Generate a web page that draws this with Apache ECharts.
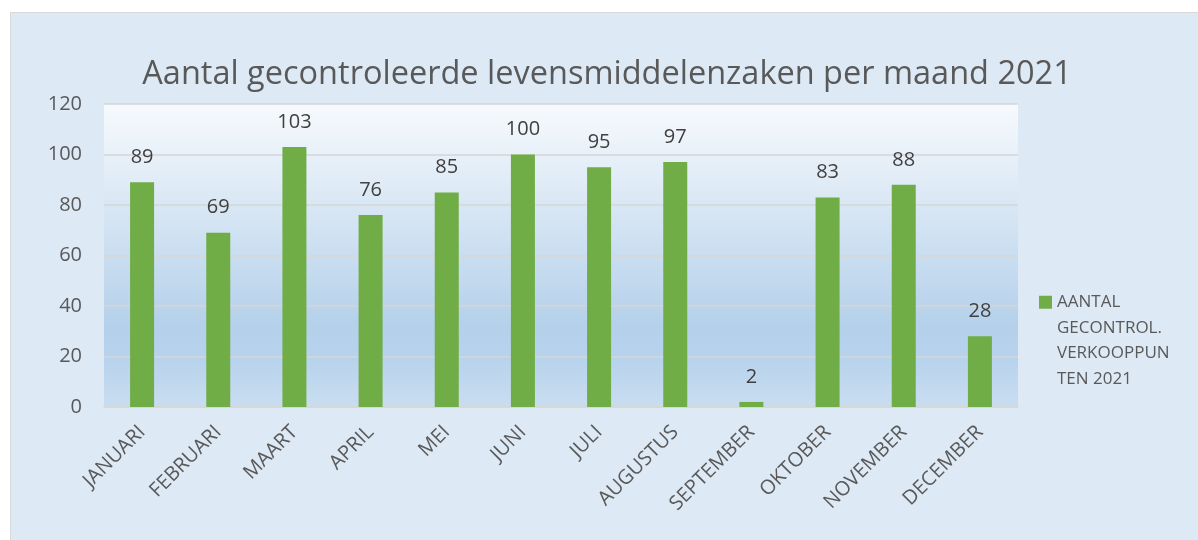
<!DOCTYPE html>
<html>
<head>
<meta charset="utf-8">
<script src="https://cdn.jsdelivr.net/npm/echarts@6/dist/echarts.min.js"></script>
<style>
  html, body { margin: 0; padding: 0; background: #ffffff; overflow: hidden; }
  #chart {
    position: absolute; left: 10px; top: 12px;
    width: 1200px; height: 540px;
    background: #dde9f5; border: 1px solid #d9d9d9;
  }
</style>
</head>
<body>
<div id="chart"></div>
<script>
// maanden
const months = ['JANUARI', 'FEBRUARI', 'MAART', 'APRIL', 'MEI', 'JUNI',
  'JULI', 'AUGUSTUS', 'SEPTEMBER', 'OKTOBER', 'NOVEMBER', 'DECEMBER']
// aantal gecontroleerde verkooppunten
const controls = [89, 69, 103, 76, 85, 100, 95, 97, 2, 83, 88, 28]
const seriesName = 'AANTAL GECONTROL. VERKOOPPUNTEN 2021'
const legendLines = ['AANTAL', 'GECONTROL.', 'VERKOOPPUN', 'TEN 2021']

const FONT = 'Open Sans'
const chart = echarts.init(document.getElementById('chart'))

chart.setOption({
  animation: false,
  backgroundColor: 'transparent',
  title: {
    text: 'Aantal gecontroleerde levensmiddelenzaken per maand 2021',
    left: 591,
    textAlign: 'center',
    top: 40,
    textStyle: { fontFamily: FONT, fontSize: 32.5, fontWeight: 'normal', color: '#595959' }
  },
  legend: {
    left: 1028,
    top: 200,
    padding: 0,
    itemWidth: 13,
    itemHeight: 13,
    icon: 'rect',
    data: [seriesName],
    // leere Zeilen davor, damit das Symbol bei der ersten Zeile steht
    formatter: () => '\n\n\n' + legendLines.join('\n'),
    textStyle: {
      fontFamily: FONT, fontSize: 17, color: '#595959', lineHeight: 25.5
    }
  },
  grid: {
    left: 93, top: 91, width: 914, height: 303,
    show: true, borderWidth: 0,
    backgroundColor: new echarts.graphic.LinearGradient(0, 0, 0, 1, [
      { offset: 0, color: '#f7fafd' },
      { offset: 0.74, color: '#b4d0ea' },
      { offset: 0.83, color: '#b6d2ec' },
      { offset: 1, color: '#c9ddf0' }
    ])
  },
  xAxis: {
    type: 'category',
    data: months,
    axisLine: { show: true, lineStyle: { color: '#d6d6d6', width: 1.5 } },
    axisTick: { show: false },
    axisLabel: {
      rotate: 45, interval: 0, margin: 22,
      fontFamily: FONT, fontSize: 20, color: '#595959'
    }
  },
  yAxis: {
    type: 'value',
    min: 0, max: 120, interval: 20,
    axisLine: { show: false },
    axisTick: { show: false },
    splitLine: { lineStyle: { color: '#d6d6d6', width: 1.5 } },
    axisLabel: { margin: 22, fontFamily: FONT, fontSize: 20, color: '#595959' }
  },
  series: [{
    name: seriesName,
    type: 'bar',
    data: controls,
    barWidth: 24,
    itemStyle: { color: '#70ad47' },
    label: {
      show: true, position: 'top', distance: 15,
      fontFamily: FONT, fontSize: 20, color: '#404040'
    }
  }]
})
</script>
</body>
</html>
